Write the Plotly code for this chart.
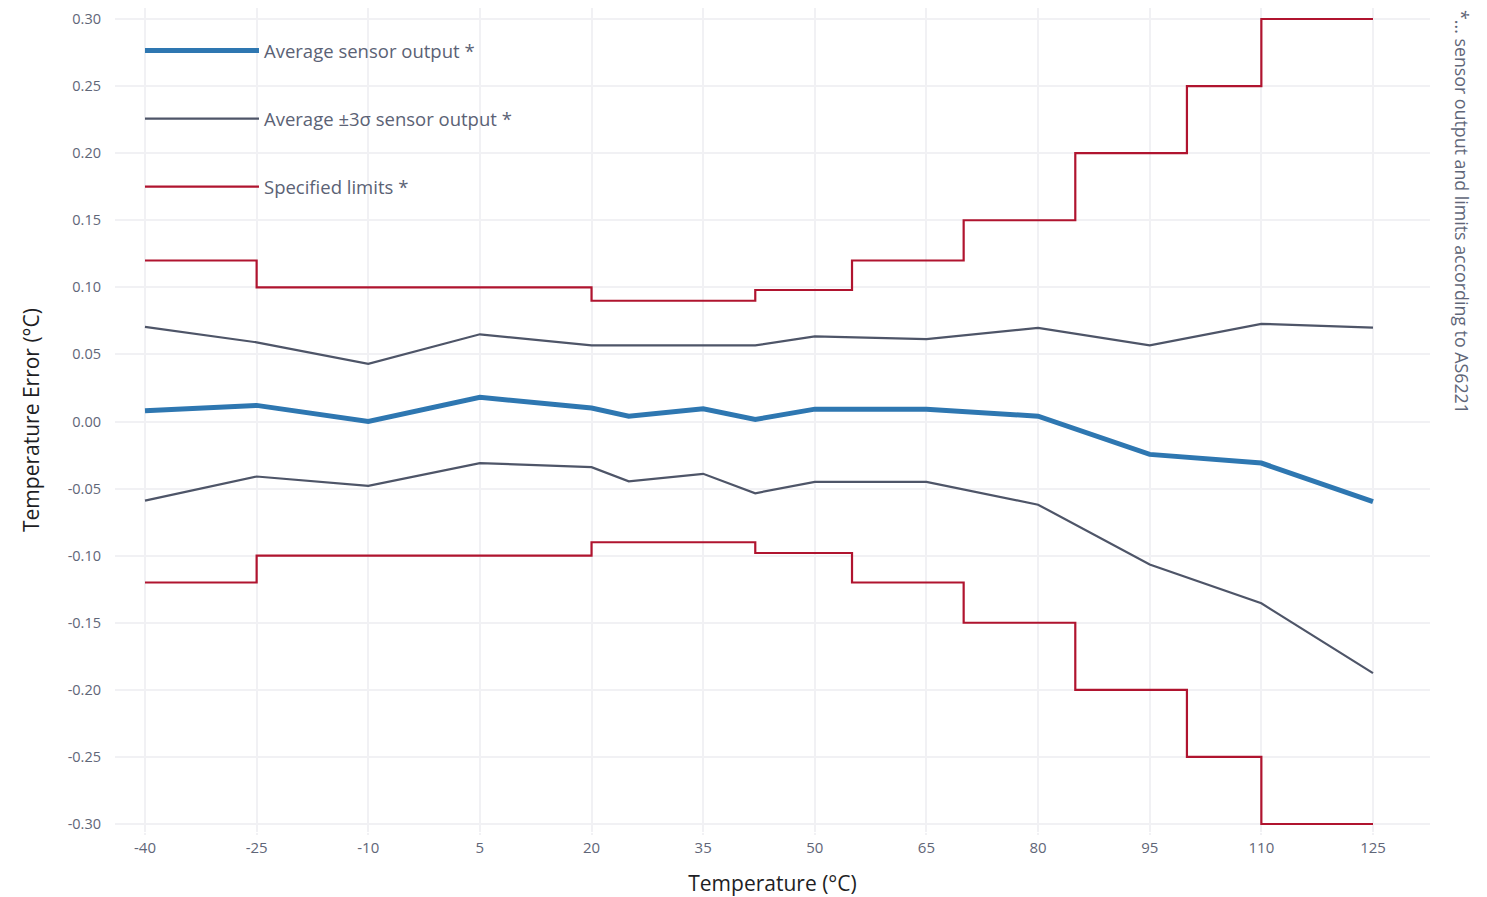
import plotly.graph_objects as go

# ---- data ----
temp_avg = [-40, -25, -10, 5, 20, 25, 35, 42, 50, 65, 80, 95, 110, 125]
avg_output = [0.008, 0.012, 0.000, 0.018, 0.010, 0.004, 0.0095, 0.0015, 0.0092, 0.0092, 0.004, -0.0245, -0.031, -0.0597]
upper_3sigma = [0.0705, 0.059, 0.043, 0.065, 0.0567, 0.0567, 0.0567, 0.0567, 0.0634, 0.0614, 0.0698, 0.0567, 0.0728, 0.070]
lower_3sigma = [-0.059, -0.041, -0.048, -0.031, -0.034, -0.0446, -0.039, -0.0535, -0.045, -0.045, -0.062, -0.1066, -0.1355, -0.1875]

temp_limits = [-40, -25, 20, 42, 55, 70, 85, 100, 110, 125]
upper_limit = [0.12, 0.10, 0.09, 0.098, 0.12, 0.15, 0.20, 0.25, 0.30, 0.30]
lower_limit = [-0.12, -0.10, -0.09, -0.098, -0.12, -0.15, -0.20, -0.25, -0.30, -0.30]

x_ticks = [-40, -25, -10, 5, 20, 35, 50, 65, 80, 95, 110, 125]
y_ticks = [-0.30, -0.25, -0.20, -0.15, -0.10, -0.05, 0.00, 0.05, 0.10, 0.15, 0.20, 0.25, 0.30]

BLUE = "#2e77b1"
GRAY = "#4e5568"
RED = "#b0142f"
GRID = "#f1f1f4"
TICKC = "#5f6678"
FONT = "Open Sans"

fig = go.Figure()
fig.add_trace(go.Scatter(x=temp_avg, y=avg_output, mode="lines", name="Average sensor output *",
                         line=dict(color=BLUE, width=5), legendgroup="a"))
fig.add_trace(go.Scatter(x=temp_avg, y=upper_3sigma, mode="lines", name="Average ±3σ sensor output *",
                         line=dict(color=GRAY, width=2.2), legendgroup="b"))
fig.add_trace(go.Scatter(x=temp_avg, y=lower_3sigma, mode="lines", name="Average ±3σ sensor output *",
                         line=dict(color=GRAY, width=2.2), legendgroup="b", showlegend=False))
fig.add_trace(go.Scatter(x=temp_limits, y=upper_limit, mode="lines", name="Specified limits *",
                         line=dict(color=RED, width=2.2, shape="hv"), legendgroup="c"))
fig.add_trace(go.Scatter(x=temp_limits, y=lower_limit, mode="lines", name="Specified limits *",
                         line=dict(color=RED, width=2.2, shape="hv"), legendgroup="c", showlegend=False))

fig.update_layout(
    width=1479, height=889,
    margin=dict(l=107, r=57, t=0, b=65),
    paper_bgcolor="white", plot_bgcolor="white",
    font=dict(family=FONT, color=TICKC),
    showlegend=True,
    legend=dict(x=0.019, y=1 - 24 / 824, xanchor="left", yanchor="top",
                bgcolor="rgba(0,0,0,0)", itemwidth=114, tracegroupgap=41,
                font=dict(size=18.5, color="#5b6275", family=FONT)),
    xaxis=dict(range=[-44.03, 132.66], tickvals=x_ticks, ticktext=[str(v) for v in x_ticks],
               showgrid=True, gridcolor=GRID, gridwidth=1.5, zeroline=False, showline=False,
               ticks="outside", ticklen=2, tickcolor=GRID, tickwidth=1.5, automargin=False,
               tickfont=dict(size=15, color=TICKC),
               title=dict(text="Temperature (°C)", font=dict(size=21, color="#1e1e24"), standoff=24)),
    yaxis=dict(range=[-0.30596, 0.3082], tickvals=y_ticks, ticktext=[f"{v:.2f}" for v in y_ticks],
               showgrid=True, gridcolor=GRID, gridwidth=1.5, zeroline=False, showline=False,
               tickfont=dict(size=14.5, color=TICKC), ticklabelstandoff=13, automargin=False,
               title=dict(text="Temperature Error (°C)", font=dict(size=21, color="#1e1e24"), standoff=22)),
)

fig.add_annotation(text="*... sensor output and limits according to AS6221", textangle=90,
                   xref="paper", yref="paper", x=1.0, y=1.0, xanchor="left", yanchor="top",
                   xshift=18, yshift=0, showarrow=False,
                   font=dict(size=17.8, color=TICKC, family=FONT))

fig.write_html("out.html")
